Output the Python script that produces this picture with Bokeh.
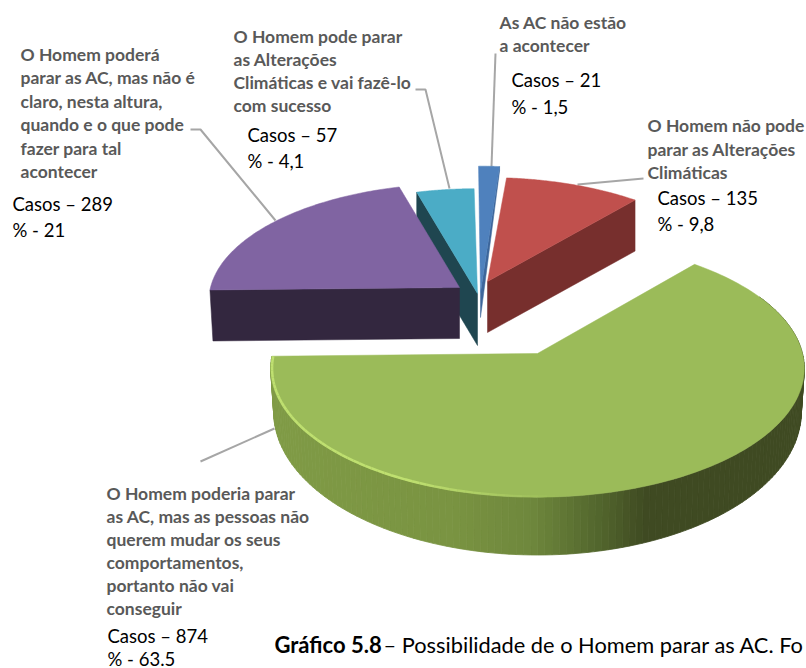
import math
import numpy as np
from bokeh.plotting import figure
from bokeh.models import Range1d
from bokeh.core.properties import value
from bokeh.embed import file_html
from bokeh.resources import INLINE

# ---- data
categories = ["As AC não estão a acontecer", "O Homem não pode parar as Alterações Climáticas",
              "O Homem poderia parar as AC, mas as pessoas não querem mudar os seus comportamentos, portanto não vai conseguir",
              "O Homem poderá parar as AC, mas não é claro, nesta altura, quando e o que pode fazer para tal acontecer",
              "O Homem pode parar as Alterações Climáticas e vai fazê-lo com sucesso"]
shares = [1.5, 9.8, 63.5, 21, 4.1]
casos = [21, 135, 874, 289, 57]
pct_text = ["1,5", "9,8", "63.5", "21", "4,1"]
label_lines = [["As AC não estão", "a acontecer"],
               ["O Homem não pode", "parar as Alterações", "Climáticas"],
               ["O Homem poderia parar", "as AC, mas as pessoas não", "querem mudar os seus", "comportamentos,", "portanto não vai", "conseguir"],
               ["O Homem poderá", "parar as AC, mas não é", "claro, nesta altura,", "quando e o que pode", "fazer para tal", "acontecer"],
               ["O Homem pode parar", "as Alterações", "Climáticas e vai fazê-lo", "com sucesso"]]
caption_bold = "Gráfico 5.8"
caption_rest = "– Possibilidade de o Homem parar as AC. Fo"

# ---- layout and style
top_cols = ["#4f81bd", "#c0504d", "#9bbb59", "#8064a2", "#4bacc6"]
wall_cols = ["#3d669b", "#772f2d", "#6f883d", "#33273f", "#1f4650"]
apex = [(480, 292), (487, 281), (537, 353), (459, 287), (477, 293)]
radii = [(249, 141), (249, 116), (265, 127), (249, 116), (251, 117)]
bottom_radii = [(249, 164), (249, 116), (262, 141), (246, 116), (251, 117)]
depth = [25, 51, 42, 51, 52]
K = 0.116
ROT = -0.5
label_pos = [(499, 22, 23), (647, 125, 23.5), (106, 493, 23), (20, 54, 23.4), (233, 36, 23)]
casos_pos = [(511, 79, 27), (657, 197, 26), (107, 635, 23), (12, 203, 26), (247, 134, 26)]
leaders = [([495, 491], [53, 166]), ([643, 577], [178, 184]), ([200, 274], [461, 428]),
           ([190, 200, 275], [129, 129, 220]), ([415, 425, 449], [89, 89, 188])]

# slice angles from the shares, clockwise from the top
edges = ROT + np.concatenate([[0], np.cumsum(shares)]) * 3.6


def pts(i, theta, rad):
    t = np.radians(np.asarray(theta, dtype=float))
    u, v = np.sin(t), -np.cos(t)
    w = 1 - K * v
    return rad[0] * u / w, rad[1] * v / w


def top_face(i, n=80):
    th = np.linspace(edges[i], edges[i + 1], n)
    x, y = pts(i, th, radii[i])
    ax, ay = apex[i]
    return np.r_[ax, ax + x], np.r_[ay, ay + y]


def radial_wall(i, theta):
    ax, ay = apex[i]
    d = depth[i]
    x1, y1 = pts(i, theta, radii[i])
    x2, y2 = pts(i, theta, bottom_radii[i])
    return [ax, ax + x1, ax + x2, ax], [ay, ay + y1, ay + y2 + d, ay + d]


p = figure(width=806, height=668, x_range=Range1d(0, 806), y_range=Range1d(668, 0),
           output_backend="svg", toolbar_location=None, min_border=0)
p.axis.visible = False
p.grid.visible = False
p.outline_line_color = None

# leader lines
for lx, ly in leaders:
    p.line(lx, ly, line_color="#a6a6a6", line_width=2)

# cyan, blue, purple, red walls and faces; the green slice last
for i in [4, 0, 3, 1]:
    theta = edges[i] if i in (3, 4) else edges[i + 1]
    wx, wy = radial_wall(i, theta)
    p.patch(wx, wy, fill_color=wall_cols[i], line_color=wall_cols[i], line_width=0.5)
    fx, fy = top_face(i)
    p.patch(fx, fy, fill_color=top_cols[i], line_color=top_cols[i], line_width=0.5)

# green outer wall, shaded along its width
g = 2
ax, ay = apex[g]
ths = np.linspace(62, edges[g + 1], 150)
xt, yt = pts(g, ths, radii[g])
xb, yb = pts(g, ths, bottom_radii[g])
shade_x = [275, 450, 530, 600, 645, 800]
shade_rgb = np.array([[0x80, 0x9b, 0x46], [0x7a, 0x94, 0x42], [0x6f, 0x88, 0x3d],
                      [0x52, 0x65, 0x2d], [0x3f, 0x4a, 0x22], [0x3f, 0x4a, 0x22]])
for j in range(len(ths) - 1):
    mx = ax + (xb[j] + xb[j + 1]) / 2
    c = [int(np.interp(mx, shade_x, shade_rgb[:, k])) for k in range(3)]
    col = "#%02x%02x%02x" % tuple(c)
    p.patch([ax + xt[j], ax + xt[j + 1], ax + xb[j + 1], ax + xb[j]],
            [ay + yt[j], ay + yt[j + 1], ay + yb[j + 1] + depth[g], ay + yb[j] + depth[g]],
            fill_color=col, line_color=col, line_width=0.8)
fx, fy = top_face(g, 200)
p.patch(fx, fy, fill_color=top_cols[g], line_color=top_cols[g], line_width=0.5)

# light rim on the near edge of the green top
rim = np.linspace(175, edges[g + 1], 60)
rx, ry = pts(g, rim, radii[g])
for j in range(len(rim) - 1):
    a = min(1.0, (rim[j] - 175) / 30)
    p.line(ax + rx[j:j + 2] * 0.995, ay + ry[j:j + 2] * 0.995, line_color="#bfe070", line_width=2.5, line_alpha=a)

# texts
lato = value("Lato")
for i, lines in enumerate(label_lines):
    x0, y0, dy = label_pos[i]
    p.text([x0] * len(lines), [y0 + n * dy for n in range(len(lines))], text=lines, text_font=lato,
           text_font_style="bold", text_font_size="17.5px", text_color="#595959", text_baseline="middle")
    cx, cy, cdy = casos_pos[i]
    p.text([cx, cx], [cy, cy + cdy], text=[f"Casos – {casos[i]}", f"% - {pct_text[i]}"], text_font=lato,
           text_font_size="18.5px", text_color="#000000", text_baseline="middle")

p.text([274], [644], text=[caption_bold], text_font=lato, text_font_style="bold",
       text_font_size="22px", text_color="#000000", text_baseline="middle")
p.text([383], [644], text=[caption_rest], text_font=lato,
       text_font_size="21.8px", text_color="#000000", text_baseline="middle")

open("out.html", "w").write(file_html(p, INLINE))
